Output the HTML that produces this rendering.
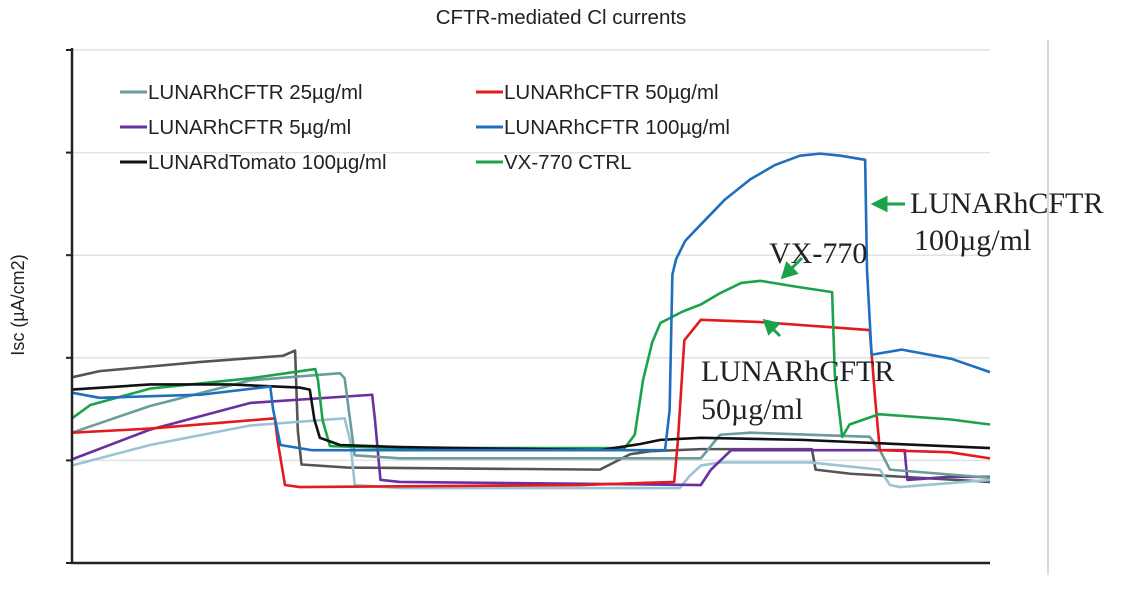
<!DOCTYPE html>
<html><head><meta charset="utf-8"><style>
body{margin:0;background:#fff;}
svg text{font-family:"Liberation Sans",sans-serif;}
</style></head><body>
<svg id="chart" width="1123" height="589" xmlns="http://www.w3.org/2000/svg">
<text x="561" y="24" font-size="20.5" text-anchor="middle" fill="#222">CFTR-mediated Cl currents</text>
<text transform="translate(24,305) rotate(-90)" font-size="18" text-anchor="middle" fill="#222">Isc (µA/cm2)</text>
<line x1="1048" y1="40" x2="1048" y2="575" stroke="#ccc" stroke-width="1.5"/>
<g id="grid"></g><g id="series"></g>
<line x1="72" y1="48" x2="72" y2="564" stroke="#222" stroke-width="2.5"/>
<line x1="71" y1="563" x2="990" y2="563" stroke="#222" stroke-width="2.5"/>
<g id="legend"></g>
<g fill="#222" font-size="30">
<text x="910" y="213" style="font-family:'Liberation Serif',serif">LUNARhCFTR</text>
<text x="914" y="250" style="font-family:'Liberation Serif',serif">100µg/ml</text>
<text x="769" y="263" style="font-family:'Liberation Serif',serif">VX-770</text>
<text x="701" y="381" style="font-family:'Liberation Serif',serif">LUNARhCFTR</text>
<text x="701" y="419" style="font-family:'Liberation Serif',serif">50µg/ml</text>
</g>
<g stroke="#1aa34a" stroke-width="3" fill="#1aa34a">
<line x1="905" y1="204" x2="884" y2="204"/><polygon points="874,204 886,198 886,210"/>
<line x1="802" y1="258" x2="790" y2="270"/><polygon points="783,277 787,264 796,273"/>
<line x1="780" y1="336" x2="772" y2="328"/><polygon points="765,321 778,324 769,333"/>
</g>
</svg>
<script>
const yTicks=[0,1,2,3,4,5];
const names=["LUNARhCFTR 25µg/ml","LUNARhCFTR 50µg/ml","LUNARhCFTR 5µg/ml","LUNARhCFTR 100µg/ml","LUNARdTomato 100µg/ml","VX-770 CTRL"];
const colors=["#6a9c9c","#e41a1c","#6a2fa0","#1f6fbf","#111111","#1aa34a"];
const tDark=[0,3,14,23,24.3,24.6,25,30,57.5,60.8,63,68.6,80.6,81,84.8,100];
const vDark=[1.81,1.87,1.96,2.02,2.07,1.29,0.96,0.93,0.91,1.06,1.09,1.11,1.11,0.91,0.87,0.79];
const tBlack=[0,8.5,17.2,24.8,25.9,26.4,27,29.2,35.7,57.5,61.9,64.1,68.5,79.5,100];
const vBlack=[1.69,1.74,1.74,1.71,1.69,1.40,1.22,1.15,1.13,1.10,1.16,1.20,1.22,1.20,1.12];
const tLight=[0,8.5,19.4,29.7,30.3,30.8,35.7,66.2,67.3,68.5,70.6,80.4,88,89.1,90.2,100];
const vLight=[0.95,1.15,1.34,1.41,1.19,0.76,0.73,0.73,0.85,0.95,0.98,0.98,0.91,0.76,0.74,0.81];
const t25=[0,8.5,19.4,29.2,29.7,30.3,30.8,35.7,68.5,70.6,73.9,86.9,88,89.1,100];
const v25=[1.27,1.53,1.78,1.85,1.80,1.39,1.05,1.02,1.02,1.25,1.27,1.23,1.10,0.91,0.83];
const t50=[0,8.5,22.1,22.4,23.2,24.8,55.3,65.6,66,66.7,68.5,74.7,86.9,87.5,88,95.6,100];
const v50=[1.27,1.31,1.41,1.19,0.76,0.74,0.76,0.79,1.19,2.17,2.37,2.35,2.27,1.59,1.10,1.08,1.02];
const t5=[0,8.5,19.4,32.7,33,33.6,35.7,68.5,69.6,71.8,88,90.7,91,95.6,100];
const v5=[1.01,1.30,1.56,1.64,1.40,0.81,0.79,0.76,0.91,1.10,1.10,1.10,0.81,0.84,0.84];
const t100=[0,3,14,21.6,21.9,22.7,26.1,57.5,64.6,65.1,65.4,65.8,66.8,68.4,71.1,73.9,76.6,79.3,81.5,83.7,86.4,86.6,87.1,90.4,95.8,100];
const v100=[1.66,1.61,1.64,1.72,1.50,1.15,1.10,1.10,1.10,1.49,2.81,2.96,3.14,3.29,3.54,3.74,3.88,3.97,3.99,3.97,3.93,2.86,2.03,2.08,1.99,1.86];
const tVX=[0,2,8.5,19.4,26.5,26.8,27.3,28.1,35.7,57.5,60.2,61.3,62.2,63.2,64.1,66.5,68.5,70.6,72.9,75,78.4,82.8,83.1,83.9,84.7,87.9,95.6,100];
const vVX=[1.41,1.54,1.70,1.80,1.89,1.78,1.39,1.14,1.12,1.12,1.12,1.25,1.78,2.15,2.34,2.45,2.52,2.63,2.73,2.75,2.70,2.64,1.83,1.23,1.35,1.45,1.40,1.35];

const X=t=>72+t*(990-72)/100, Y=v=>563-v*102.6;
const svg=document.getElementById('series'), grid=document.getElementById('grid'), leg=document.getElementById('legend');
const NS="http://www.w3.org/2000/svg";
yTicks.forEach(v=>{
  const g=document.createElementNS(NS,'line');
  
  
  g.setAttribute('x1',72);g.setAttribute('x2',990);g.setAttribute('y1',Y(v));g.setAttribute('y2',Y(v));
  g.setAttribute('stroke','#e2e2e2');g.setAttribute('stroke-width','1.5');grid.appendChild(g);
  const tk=document.createElementNS(NS,'line');
  
  
  tk.setAttribute('x1',66);tk.setAttribute('x2',72);tk.setAttribute('y1',Y(v));tk.setAttribute('y2',Y(v));
  tk.setAttribute('stroke','#222');tk.setAttribute('stroke-width','2');grid.appendChild(tk);
});
const series=[
 ["dtomato-gray",tDark,vDark,"#555555"],["light-blue-trace",tLight,vLight,"#9cc3d3"],
 ["hcftr-5",t5,v5,colors[2]],["hcftr-25",t25,v25,colors[0]],["hcftr-50",t50,v50,colors[1]],
 ["vx770-ctrl",tVX,vVX,colors[5]],["dtomato-100",tBlack,vBlack,colors[4]],["hcftr-100",t100,v100,colors[3]]];
series.forEach(s=>{
  const p=document.createElementNS(NS,'polyline');
  
  
  p.setAttribute('points',s[1].map((t,i)=>X(t)+','+Y(s[2][i])).join(' '));
  p.setAttribute('fill','none');p.setAttribute('stroke',s[3]);p.setAttribute('stroke-width','2.6');
  p.setAttribute('stroke-linejoin','round');
  svg.appendChild(p);
});
const order=[0,2,4,1,3,5];
order.forEach((k,i)=>{
  const col=i<3?0:1,row=i%3;
  const x=col?476:120,y=92+row*35;
  const l=document.createElementNS(NS,'line');
  
  
  l.setAttribute('x1',x);l.setAttribute('x2',x+27);l.setAttribute('y1',y);l.setAttribute('y2',y);
  l.setAttribute('stroke',colors[k]);l.setAttribute('stroke-width','3');leg.appendChild(l);
  const t=document.createElementNS(NS,'text');
  
  
  t.setAttribute('x',x+28);t.setAttribute('y',y+7);t.setAttribute('font-size','20.5');t.setAttribute('fill','#222');
  t.textContent=names[k];leg.appendChild(t);
});
</script>
</body></html>
